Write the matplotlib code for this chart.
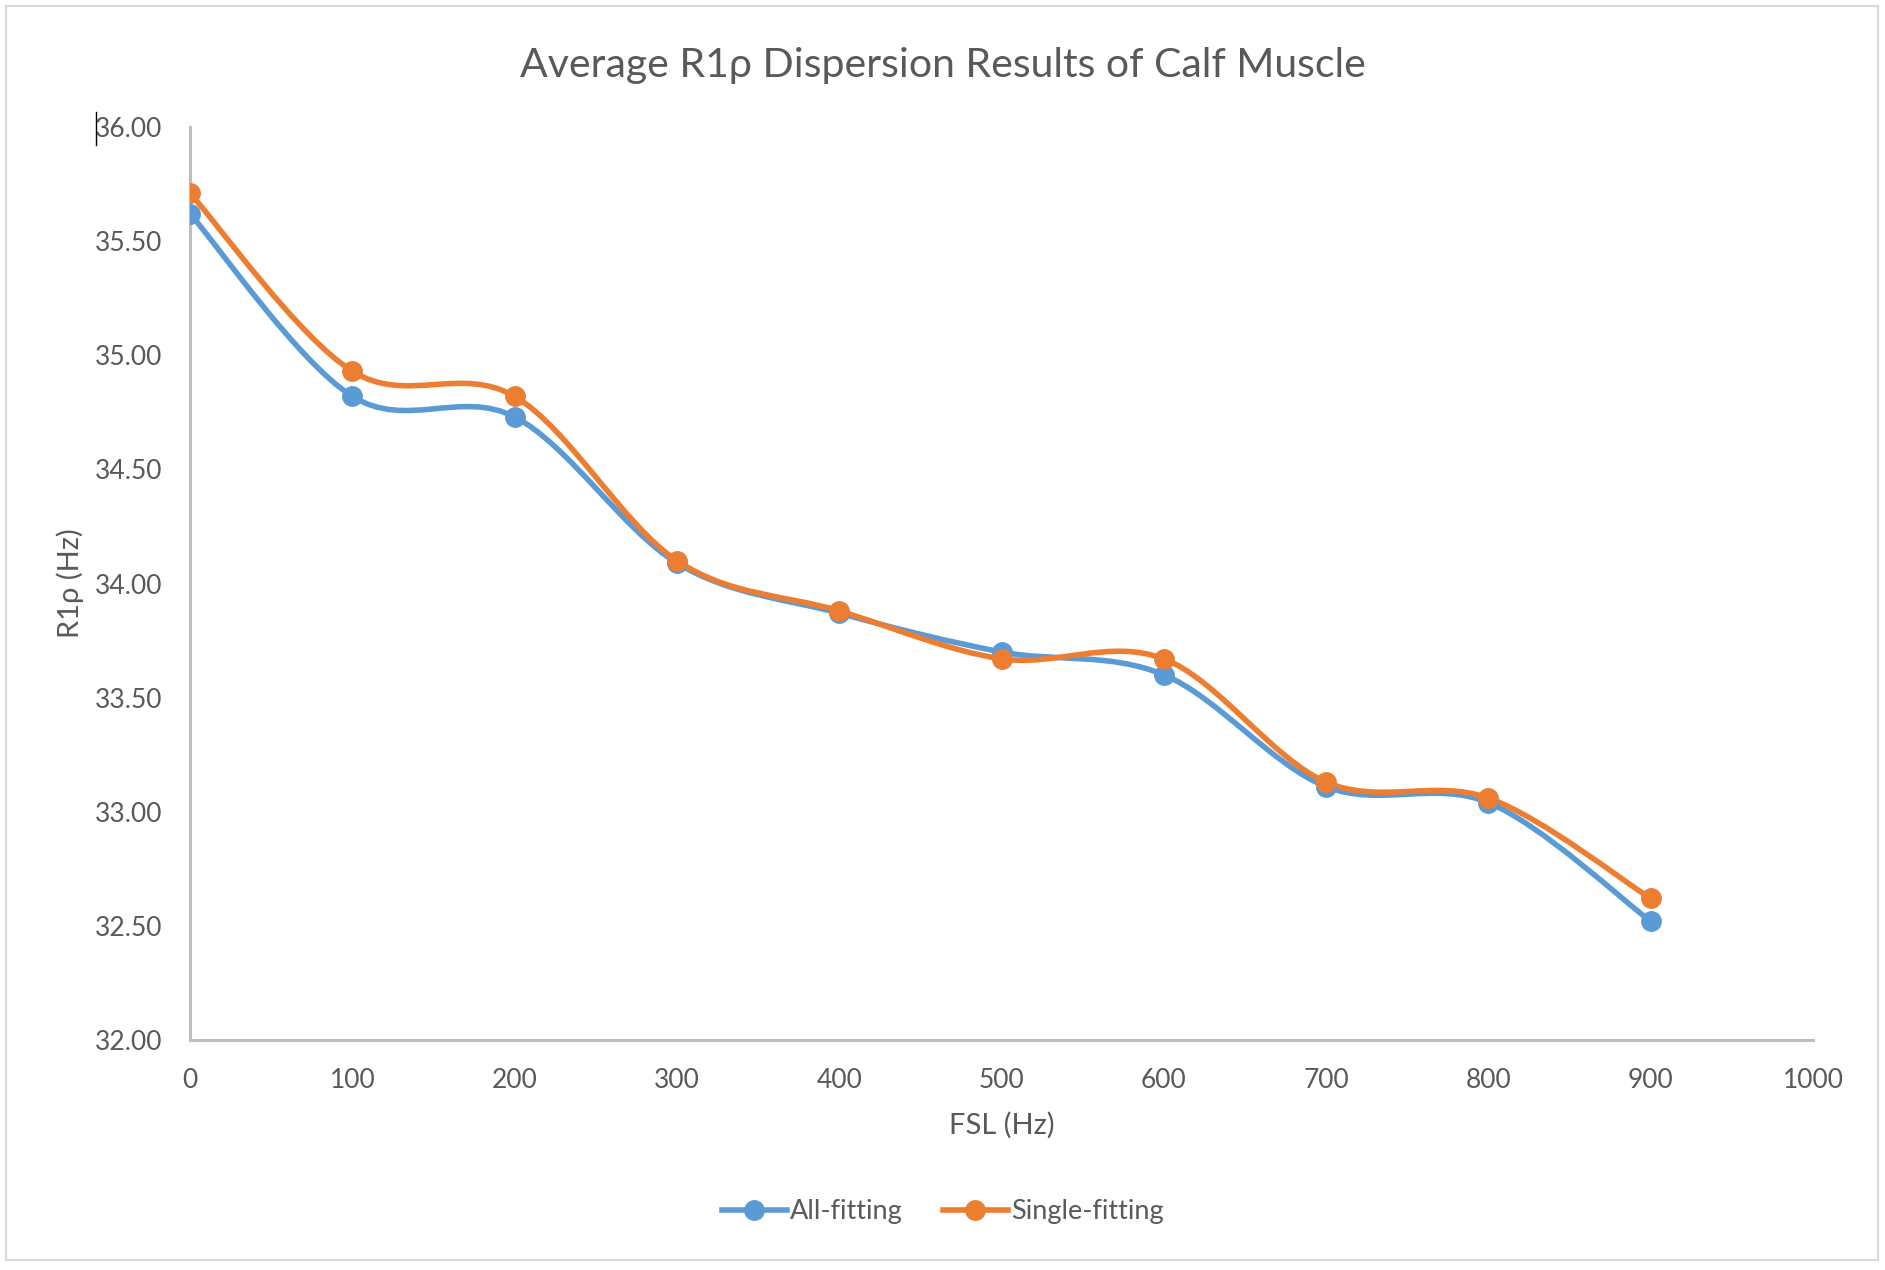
import numpy as np
import matplotlib.pyplot as plt
from matplotlib.path import Path
from matplotlib.patches import PathPatch, Rectangle
from matplotlib.lines import Line2D

plt.rcParams['font.family'] = ['Lato', 'DejaVu Sans']

# data
fsl = [0, 100, 200, 300, 400, 500, 600, 700, 800, 900]
allFitting = [35.62, 34.82, 34.73, 34.09, 33.87, 33.70, 33.60, 33.11, 33.04, 32.52]
singleFitting = [35.71, 34.93, 34.82, 34.10, 33.88, 33.67, 33.67, 33.13, 33.06, 32.62]
seriesNames = ['All-fitting', 'Single-fitting']
seriesColors = ['#5B9BD5', '#ED7D31']
yTicks = [32.0, 32.5, 33.0, 33.5, 34.0, 34.5, 35.0, 35.5, 36.0]
xTicks = [0, 100, 200, 300, 400, 500, 600, 700, 800, 900, 1000]

textColor = '#595959'
axisColor = '#BFBFBF'

#Excel-style smoothed line (catmull-rom through the points, as bezier segments)
def smoothPath(x, y):
    pts = np.column_stack([x, y]).astype(float)
    n = len(pts)
    verts = [pts[0]]
    codes = [Path.MOVETO]
    for i in range(n - 1):
        p0 = pts[i - 1] if i > 0 else pts[i]
        p1 = pts[i]
        p2 = pts[i + 1]
        p3 = pts[i + 2] if i + 2 < n else pts[i + 1]
        c1 = p1 + (p2 - p0) / 6.0
        c2 = p2 - (p3 - p1) / 6.0
        verts += [c1, c2, p2]
        codes += [Path.CURVE4] * 3
    return Path(verts, codes)

fig = plt.figure(figsize=(18.85, 12.70), dpi=100)
ax = fig.add_axes([190 / 1885, 1 - 1040 / 1270, (1813 - 190) / 1885, (1040 - 127) / 1270])

for ys, name, col in zip([allFitting, singleFitting], seriesNames, seriesColors):
    ax.add_patch(PathPatch(smoothPath(fsl, ys), facecolor='none', edgecolor=col,
                           lw=4.0, capstyle='round', joinstyle='round', zorder=3))
    ax.plot(fsl, ys, linestyle='none', marker='o', markersize=14, color=col, zorder=4)

ax.set_xlim(0, 1000)
ax.set_ylim(32, 36)
ax.set_xticks(xTicks)
ax.set_yticks(yTicks)
ax.set_yticklabels([f'{v:.2f}' for v in yTicks])
ax.tick_params(axis='both', length=0, labelsize=19, colors=textColor)
ax.tick_params(axis='x', pad=20)
ax.tick_params(axis='y', pad=20)
for s in ['top', 'right']:
    ax.spines[s].set_visible(False)
for s in ['left', 'bottom']:
    ax.spines[s].set_color(axisColor)
    ax.spines[s].set_linewidth(2.2)

ax.set_xlabel('FSL (Hz)', fontsize=21, color=textColor, labelpad=14)
ax.set_ylabel('R1ρ (Hz)', fontsize=21, color=textColor, labelpad=8)

fig.text(0.5, 1 - 66 / 1270, 'Average R1ρ Dispersion Results of Calf Muscle',
         ha='center', va='center', fontsize=29.5, color=textColor)

handles = [Line2D([0], [0], color=c, lw=4.0, marker='o', markersize=14) for c in seriesColors]
fig.legend(handles, seriesNames, loc='center', bbox_to_anchor=(0.5, 1 - 1212 / 1270),
           ncol=2, frameon=False, fontsize=19.5, labelcolor=textColor,
           handlelength=2.4, handletextpad=0.1, columnspacing=1.5)

#chart border
fig.patches.append(Rectangle((6 / 1885, 10 / 1270), 1872 / 1885, 1254 / 1270,
                             transform=fig.transFigure, fill=False,
                             edgecolor='#D9D9D9', lw=1.5))
#stray cursor mark left of the top label
fig.add_artist(Line2D([96 / 1885, 96 / 1885], [1 - 112 / 1270, 1 - 145 / 1270],
                      transform=fig.transFigure, color='black', lw=1))

fig.savefig('out.png', dpi=100)
